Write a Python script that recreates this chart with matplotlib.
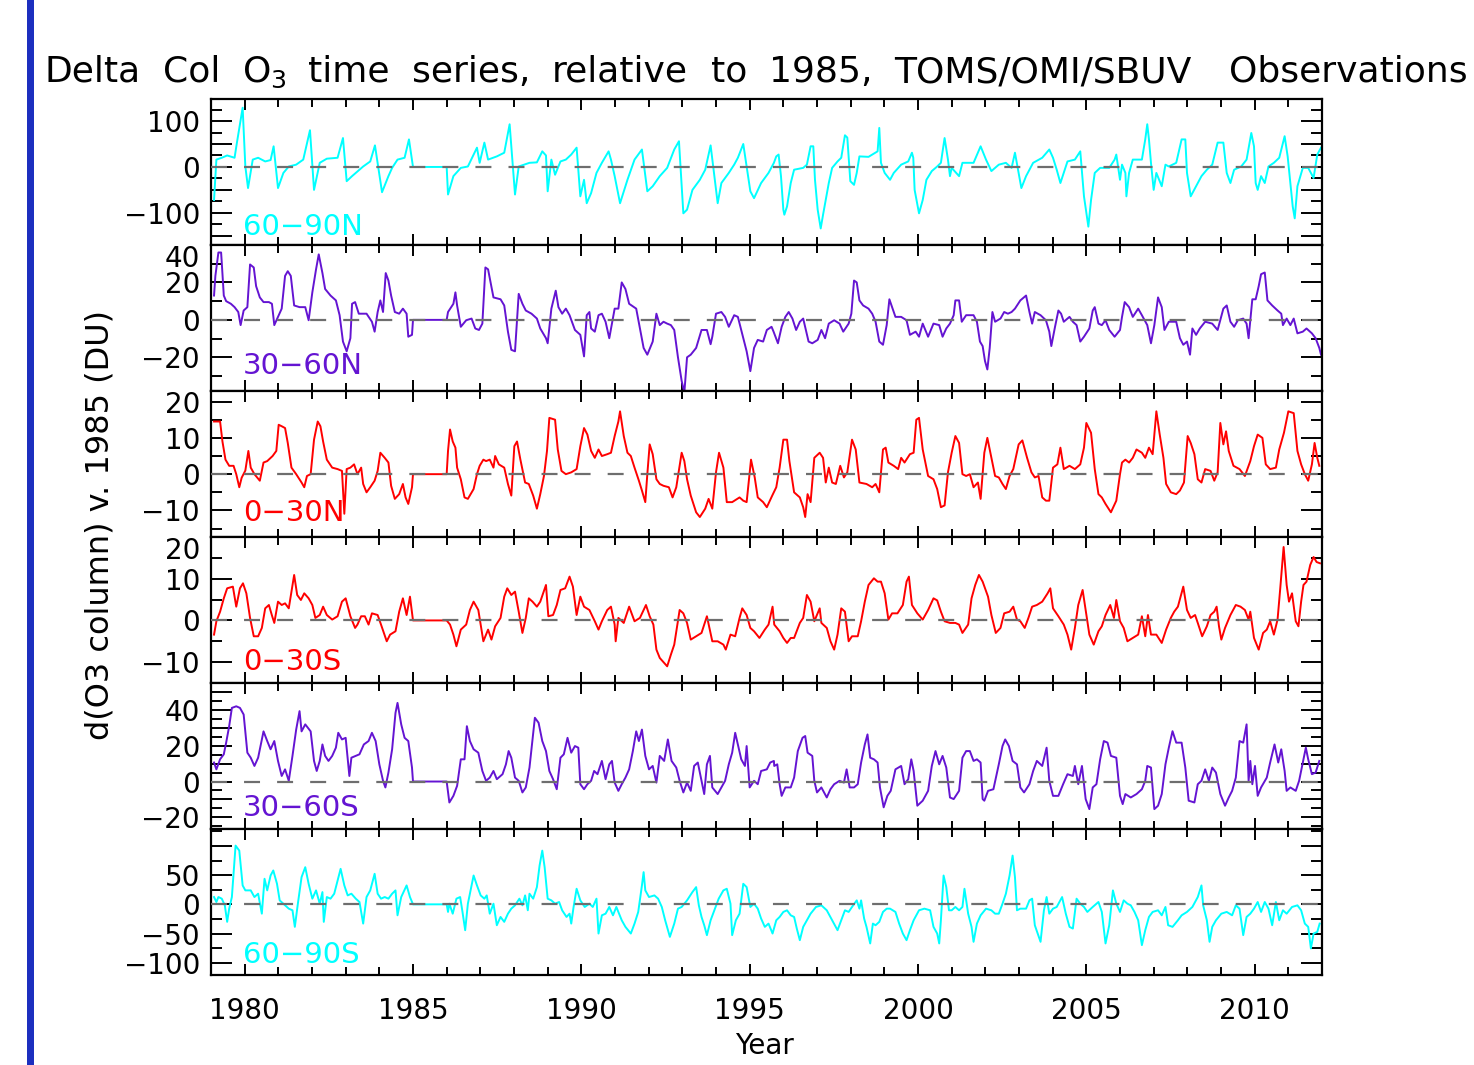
import numpy as np
import matplotlib
matplotlib.use('Agg')
import matplotlib.pyplot as plt
from matplotlib.patches import Rectangle

plt.rcParams['font.family'] = ['DejaVu Sans']
plt.rcParams['axes.unicode_minus'] = True
plt.rcParams['lines.scale_dashes'] = False

title_words = ['Delta', 'Col', 'O$_3$', 'time', 'series,', 'relative', 'to', '1985,',
               'TOMS/OMI/SBUV', 'Observations']
ylabel = 'd(O3 column) v. 1985 (DU)'
xlabel = 'Year'
bands = ['60\u221290N', '30\u221260N', '0\u221230N', '0\u221230S', '30\u221260S', '60\u221290S']
band_colors = ['#00ffff', '#6414d2', '#ff0000', '#ff0000', '#6414d2', '#00ffff']
year_ticks = [1980, 1985, 1990, 1995, 2000, 2005, 2010]

# (decimal year, delta column ozone in DU)
d_60_90N = [
    (1979.09,-72),(1979.16,16),(1979.32,20),(1979.48,25),(1979.70,20),(1979.77,53),(1979.94,129),(1980.02,1),
    (1980.10,-46),(1980.24,16),(1980.40,20),(1980.61,12),(1980.77,15),(1980.86,45),(1980.99,-46),(1981.15,-13),
    (1981.31,1),(1981.53,5),(1981.74,16),(1981.94,80),(1982.06,-50),(1982.23,9),(1982.44,18),(1982.76,20),
    (1982.92,63),(1983.03,-31),(1983.19,-20),(1983.52,1),(1983.73,12),(1983.87,47),(1984.08,-55),(1984.27,-20),
    (1984.38,-2),(1984.54,16),(1984.75,20),(1984.88,60),(1985.0,0),(1986.0,0),(1986.04,-60),(1986.20,-20),
    (1986.42,-2),(1986.63,1),(1986.90,42),(1986.98,9),(1987.12,53),(1987.23,16),(1987.49,23),(1987.71,31),
    (1987.87,93),(1988.03,-60),(1988.14,1),(1988.46,9),(1988.68,10),(1988.84,34),(1988.95,25),(1989.00,-53),
    (1989.11,16),(1989.22,-17),(1989.38,12),(1989.54,16),(1989.70,27),(1989.86,42),(1989.97,-64),(1990.08,-28),
    (1990.16,-79),(1990.29,-57),(1990.45,-13),(1990.61,9),(1990.81,34),(1990.88,16),(1990.99,-20),(1991.15,-79),
    (1991.37,-28),(1991.58,16),(1991.80,38),(1991.96,-53),(1992.12,-42),(1992.33,-20),(1992.55,-2),(1992.76,38),
    (1992.90,56),(1993.03,-101),(1993.14,-93),(1993.30,-50),(1993.52,-28),(1993.68,-6),(1993.84,47),(1994.05,-79),
    (1994.16,-35),(1994.38,-13),(1994.54,5),(1994.65,20),(1994.81,50),(1995.02,-53),(1995.13,-68),(1995.34,-35),
    (1995.56,-13),(1995.72,9),(1995.79,23),(1995.86,27),(1995.93,-20),(1996.00,-93),(1996.03,-104),(1996.11,-86),
    (1996.22,-35),(1996.32,-6),(1996.59,-2),(1996.70,5),(1996.81,45),(1996.89,45),(1996.94,-28),(1997.02,-93),
    (1997.11,-134),(1997.18,-104),(1997.35,-35),(1997.45,-2),(1997.61,12),(1997.72,20),(1997.83,69),(1997.90,64),
    (1997.99,-31),(1998.10,-39),(1998.18,-13),(1998.26,23),(1998.53,22),(1998.80,34),(1998.85,85),(1998.90,9),
    (1999.01,-13),(1999.17,-28),(1999.28,-13),(1999.50,5),(1999.71,12),(1999.82,31),(1999.86,20),(1999.90,-50),
    (2000.03,-101),(2000.14,-72),(2000.25,-28),(2000.41,-9),(2000.57,1),(2000.68,9),(2000.79,63),(2000.89,16),
    (2000.95,-20),(2001.00,-2),(2001.22,-20),(2001.32,9),(2001.65,9),(2001.86,45),(2002.02,16),(2002.18,-9),
    (2002.40,5),(2002.61,9),(2002.78,-2),(2002.88,31),(2002.99,-13),(2003.07,-46),(2003.21,-20),(2003.42,9),
    (2003.69,20),(2003.90,38),(2004.01,20),(2004.12,-6),(2004.23,-35),(2004.44,12),(2004.66,16),(2004.82,34),
    (2004.93,-64),(2005.06,-130),(2005.14,-72),(2005.25,-13),(2005.41,-2),(2005.68,-2),(2005.84,16),(2005.89,27),
    (2006.00,-28),(2006.06,5),(2006.16,-13),(2006.19,-64),(2006.27,-13),(2006.38,16),(2006.65,16),(2006.75,60),
    (2006.81,93),(2006.86,60),(2006.92,9),(2007.00,-50),(2007.08,-13),(2007.24,-42),(2007.35,5),(2007.45,1),
    (2007.67,9),(2007.83,60),(2007.94,60),(2007.99,-13),(2008.10,-64),(2008.26,-42),(2008.42,-20),(2008.58,-6),
    (2008.74,5),(2008.90,53),(2009.07,53),(2009.17,-13),(2009.28,-35),(2009.39,-6),(2009.60,1),(2009.76,16),
    (2009.90,74),(2009.98,45),(2010.03,-35),(2010.09,-50),(2010.19,-20),(2010.30,-35),(2010.41,1),(2010.57,9),
    (2010.73,20),(2010.89,67),(2010.98,23),(2011.06,-35),(2011.13,-86),(2011.19,-112),(2011.27,-42),(2011.43,-2),
    (2011.59,-2),(2011.75,-24),(2011.86,27),(2011.97,42),
]

d_30_60N = [
    (1979.09,13),(1979.13,23.5),(1979.22,36),(1979.30,36),(1979.32,30.5),(1979.38,13),(1979.45,10),(1979.59,8.6),
    (1979.70,6.8),(1979.81,4.2),(1979.88,-2.8),(1979.97,5),(1980.08,6.8),(1980.16,29.6),(1980.27,28),(1980.34,18),
    (1980.45,12),(1980.56,9.5),(1980.72,9.5),(1980.81,8.6),(1980.88,-2.8),(1980.99,1.6),(1981.10,6),(1981.20,23.5),
    (1981.28,26),(1981.37,23.5),(1981.47,7.7),(1981.63,6.8),(1981.80,6.8),(1981.90,-0.2),(1982.01,14.7),(1982.12,27),
    (1982.20,35),(1982.31,25),(1982.39,16.5),(1982.55,13),(1982.71,10.4),(1982.82,2.5),(1982.92,-11.6),(1983.03,-16.8),
    (1983.14,-9.8),(1983.19,8.6),(1983.28,9.5),(1983.39,3.3),(1983.62,3.3),(1983.78,-1),(1983.86,-6.3),(1983.95,4.2),
    (1984.03,10.4),(1984.11,4.2),(1984.19,25),(1984.27,21),(1984.35,13),(1984.46,4.2),(1984.59,3.3),(1984.70,6),
    (1984.81,3.3),(1984.86,-9),(1984.97,-8),(1985.0,0),(1986.0,0),(1986.04,4.2),(1986.20,8.6),(1986.26,14.7),
    (1986.31,7.7),(1986.42,-3.7),(1986.58,-0.2),(1986.74,0.7),(1986.85,-4.6),(1986.96,-5.4),(1987.06,-2),(1987.15,28),
    (1987.23,27),(1987.39,12),(1987.60,11),(1987.71,7.7),(1987.82,-6.3),(1987.92,-16),(1988.03,-16.8),(1988.14,13.9),
    (1988.25,8.6),(1988.35,5),(1988.52,3.3),(1988.68,0.7),(1988.78,-4.6),(1988.95,-9.8),(1989.00,-12.5),(1989.11,6),
    (1989.24,15.6),(1989.32,6.8),(1989.43,3.3),(1989.54,6),(1989.65,2.5),(1989.81,-5.4),(1989.97,-8),(1990.08,-19.5),
    (1990.16,2.5),(1990.24,4.2),(1990.29,-4.6),(1990.40,-6.3),(1990.51,2.5),(1990.61,3.3),(1990.72,-1),(1990.83,-9.8),
    (1990.99,6),(1991.10,6),(1991.20,20),(1991.31,16.5),(1991.42,8.6),(1991.63,6),(1991.74,-4.6),(1991.85,-15),
    (1991.96,-18.6),(1992.12,-11.6),(1992.23,3.3),(1992.33,-2.8),(1992.44,-1),(1992.55,-2),(1992.66,-2.8),(1992.76,-5.4),
    (1992.87,-20),(1992.98,-32.6),(1993.06,-38.8),(1993.14,-20),(1993.25,-18.6),(1993.41,-15),(1993.57,-5.4),(1993.73,-5.4),
    (1993.84,-13),(1993.89,-9),(1994.00,3.3),(1994.16,4.2),(1994.27,1.6),(1994.38,-3.7),(1994.54,2.5),(1994.65,1.6),
    (1994.75,-5.4),(1994.91,-16.8),(1995.02,-27.4),(1995.13,-15),(1995.24,-10.7),(1995.40,-11.6),(1995.51,-5.4),(1995.65,-3.7),
    (1995.71,-6.3),(1995.84,-12.5),(1995.95,-3.7),(1996.06,1.6),(1996.16,4.2),(1996.27,0.7),(1996.38,-5.4),(1996.49,-1),
    (1996.59,0.7),(1996.75,-11.6),(1996.86,-12.5),(1997.02,-10.7),(1997.13,-5.4),(1997.24,-9.8),(1997.35,-2),(1997.51,-0.2),
    (1997.67,-2),(1997.78,-6.3),(1997.94,-2),(1998.02,3.3),(1998.10,21),(1998.18,20),(1998.26,10.4),(1998.37,7.7),
    (1998.53,6),(1998.64,3.3),(1998.74,-1),(1998.85,-11.6),(1998.96,-13.3),(1999.07,-2.8),(1999.15,11),(1999.23,6.8),
    (1999.33,1.6),(1999.50,1.6),(1999.66,-0.2),(1999.76,-8),(1999.93,-6.3),(2000.03,-9),(2000.14,-2),(2000.30,-9),
    (2000.46,-2),(2000.63,-2.8),(2000.73,-9),(2000.84,-4.6),(2000.95,-2),(2001.06,2.5),(2001.11,10.4),(2001.22,10.4),
    (2001.30,-1),(2001.43,2.5),(2001.65,2.5),(2001.75,-1),(2001.84,-11.6),(2001.92,-14),(2001.99,-22),(2002.06,-26.5),
    (2002.13,-15),(2002.21,4.2),(2002.29,-1),(2002.45,0.7),(2002.56,4.2),(2002.67,3.3),(2002.78,4.2),(2002.88,6),
    (2003.04,10.4),(2003.21,13),(2003.31,4.2),(2003.39,-2),(2003.47,4.2),(2003.64,2.5),(2003.80,-0.2),(2003.90,-6.3),
    (2003.96,-14),(2004.07,-3.7),(2004.17,5),(2004.25,3.3),(2004.33,-1),(2004.50,1.6),(2004.60,-1),(2004.71,-2.8),
    (2004.82,-11.6),(2004.93,-9),(2005.09,-4.6),(2005.19,5),(2005.25,6.8),(2005.36,-2),(2005.46,-2.8),(2005.57,-0.2),
    (2005.68,-5.4),(2005.84,-9),(2006.00,-5.4),(2006.06,1.6),(2006.14,9.5),(2006.27,6.8),(2006.38,1.6),(2006.54,6),
    (2006.65,2.5),(2006.81,-2.8),(2006.92,-12.5),(2007.02,-2.8),(2007.13,12),(2007.24,6.8),(2007.32,-5.4),(2007.45,-1),
    (2007.67,-1),(2007.78,-9.8),(2007.88,-13.3),(2007.99,-11.6),(2008.08,-18.6),(2008.15,-4.6),(2008.26,-8),(2008.37,-4.6),
    (2008.53,-1),(2008.74,-2),(2008.90,-5.4),(2009.07,6),(2009.17,7.7),(2009.28,-1),(2009.39,-3.7),(2009.50,-0.2),
    (2009.66,0.7),(2009.76,-2),(2009.82,-9.8),(2009.93,11),(2010.03,11),(2010.12,18),(2010.19,24.4),(2010.30,25.3),
    (2010.38,10.4),(2010.52,7.7),(2010.68,5),(2010.79,3.3),(2010.84,-2.8),(2010.95,0.7),(2011.06,-2.8),(2011.16,0.7),
    (2011.27,-7.2),(2011.43,-6.3),(2011.54,-4.6),(2011.70,-7.2),(2011.81,-9.8),(2011.92,-15),(2011.97,-18.6),
]

d_0_30N = [
    (1979.09,14.5),(1979.19,14.5),(1979.27,14.5),(1979.34,9),(1979.43,4),(1979.54,2.3),(1979.67,2.3),(1979.75,0),
    (1979.84,-3.6),(1979.91,-1),(1980.02,1),(1980.11,6.4),(1980.18,1.8),(1980.29,0),(1980.45,-1.8),(1980.56,3.2),
    (1980.67,3.6),(1980.83,5),(1980.94,6.4),(1981.01,13.6),(1981.10,13.2),(1981.20,12.7),(1981.28,8.6),(1981.39,1.8),
    (1981.53,0),(1981.69,-2.3),(1981.77,-3.6),(1981.85,-0.5),(1981.96,0),(1982.06,9.5),(1982.17,14.5),(1982.25,13.2),
    (1982.33,9),(1982.44,4),(1982.60,1.8),(1982.76,1.4),(1982.89,0.9),(1982.96,-10.9),(1983.03,1.4),(1983.14,1.8),
    (1983.25,2.7),(1983.35,0),(1983.46,1.8),(1983.52,-2.7),(1983.62,-5),(1983.73,-3.6),(1983.86,-1.8),(1983.95,0.9),
    (1984.03,5.9),(1984.16,4.5),(1984.27,3.2),(1984.35,-3.2),(1984.46,-6.8),(1984.59,-5.5),(1984.70,-2.7),(1984.78,-6.4),
    (1984.86,-8.2),(1984.97,-3.6),(1985.0,0),(1986.0,0),(1986.04,6.4),(1986.10,12.3),(1986.18,9),(1986.26,7.3),
    (1986.31,1.8),(1986.42,-1.4),(1986.53,-6.4),(1986.63,-6.8),(1986.80,-4.1),(1986.90,0),(1986.98,2.3),(1987.09,4),
    (1987.17,3.6),(1987.28,4),(1987.39,1.8),(1987.44,5),(1987.55,2.7),(1987.71,1.8),(1987.82,-2.7),(1987.92,-5.9),
    (1988.01,7.7),(1988.09,9),(1988.19,4),(1988.33,-2.3),(1988.44,-2.7),(1988.57,-5.9),(1988.68,-9.5),(1988.78,-5.5),
    (1988.89,-0.5),(1988.98,6.4),(1989.05,15.5),(1989.22,15),(1989.30,6.8),(1989.41,0.9),(1989.54,0),(1989.70,0.5),
    (1989.86,1.4),(1989.97,7.7),(1990.08,12.7),(1990.18,10.9),(1990.29,6.4),(1990.40,4.5),(1990.51,6.8),(1990.61,5),
    (1990.77,5.5),(1990.88,5.9),(1990.99,10.5),(1991.10,14.5),(1991.15,17.3),(1991.26,10.5),(1991.37,5.9),(1991.47,5),
    (1991.58,1.8),(1991.71,-1.8),(1991.80,-4.5),(1991.90,-7.7),(1991.96,0),(1992.03,8.2),(1992.12,5.5),(1992.23,-1.4),
    (1992.33,-2.7),(1992.44,-3.2),(1992.60,-3.6),(1992.71,-6.4),(1992.82,-3.6),(1992.98,5.9),(1993.06,3.6),(1993.14,-1.4),
    (1993.25,-5.9),(1993.41,-10.5),(1993.52,-11.8),(1993.68,-9.5),(1993.78,-6.8),(1993.89,-9.5),(1994.00,0.5),(1994.09,5.9),
    (1994.22,1.8),(1994.32,-7.7),(1994.48,-7.7),(1994.70,-6.4),(1994.81,-7.3),(1994.91,-7.7),(1995.04,4),(1995.15,-0.9),
    (1995.24,-6.4),(1995.40,-7.7),(1995.51,-9.1),(1995.67,-5.9),(1995.79,-3.6),(1995.89,1.8),(1996.00,9.5),(1996.11,9.5),
    (1996.18,3.6),(1996.32,-5),(1996.49,-6.4),(1996.59,-9.1),(1996.65,-11.8),(1996.72,-5.5),(1996.81,-7.7),(1996.92,4.5),
    (1997.08,5.9),(1997.18,4.5),(1997.26,-2.3),(1997.35,1.8),(1997.45,-2.3),(1997.56,-2.7),(1997.69,2.3),(1997.80,-0.9),
    (1997.90,0.5),(1998.04,9.5),(1998.15,6.8),(1998.26,-2.3),(1998.47,-2.7),(1998.64,-3.6),(1998.74,-2.7),(1998.85,-5),
    (1998.96,6.8),(1999.04,7.3),(1999.12,3.2),(1999.28,2.3),(1999.41,1.4),(1999.50,4.5),(1999.60,3.2),(1999.76,5.5),
    (1999.87,5.9),(1999.95,15),(2000.03,15.5),(2000.14,6.8),(2000.30,-0.5),(2000.46,-1.4),(2000.57,-4.1),(2000.68,-9.1),
    (2000.79,-8.6),(2000.89,0.5),(2001.00,5.9),(2001.11,10.5),(2001.22,8.6),(2001.32,0),(2001.43,-0.5),(2001.54,0),
    (2001.65,-3.6),(2001.78,-2.3),(2001.86,-6.8),(2001.97,5.9),(2002.06,10),(2002.16,5.5),(2002.29,-0.5),(2002.40,-0.9),
    (2002.51,-2.7),(2002.61,-4.1),(2002.72,-0.5),(2002.83,1.4),(2002.99,8.2),(2003.10,9.3),(2003.24,4.5),(2003.37,0.5),
    (2003.47,-0.9),(2003.58,-0.5),(2003.69,-6.4),(2003.80,-7.3),(2003.90,-7.3),(2004.01,1.8),(2004.14,2.7),(2004.23,7.3),
    (2004.33,1.4),(2004.50,2.3),(2004.66,1.4),(2004.82,2.7),(2004.93,7.3),(2005.00,14.1),(2005.14,11.4),(2005.25,1.4),
    (2005.36,-5.5),(2005.46,-6.4),(2005.57,-8.2),(2005.73,-10.5),(2005.89,-7.3),(2006.00,0),(2006.06,3.2),(2006.16,4),
    (2006.27,3.2),(2006.38,4.5),(2006.49,6.8),(2006.65,5.9),(2006.75,4.5),(2006.86,7.3),(2006.97,5.5),(2007.08,17.3),
    (2007.18,10.9),(2007.29,4.5),(2007.37,-2.7),(2007.51,-5),(2007.67,-5.5),(2007.78,-4.5),(2007.90,-2.3),(2008.01,10.5),
    (2008.10,8.6),(2008.21,5.5),(2008.31,-1.4),(2008.42,-2.3),(2008.53,1.4),(2008.69,0.9),(2008.80,-1.8),(2008.90,0.5),
    (2008.98,14.1),(2009.07,8.2),(2009.15,11.8),(2009.23,6.4),(2009.37,2.3),(2009.55,1.4),(2009.71,-0.5),(2009.87,3.6),
    (2009.98,7.7),(2010.09,10.9),(2010.23,10),(2010.33,2.7),(2010.46,1.4),(2010.63,1.8),(2010.73,6.8),(2010.87,11.4),
    (2011.00,17.3),(2011.16,16.8),(2011.27,6.4),(2011.38,2.7),(2011.49,0),(2011.59,-1.8),(2011.70,2.7),(2011.78,8.6),
    (2011.86,4.5),(2011.92,2.3),
]

d_0_30S = [
    (1979.09,-3.4),(1979.16,-0.2),(1979.27,2.1),(1979.38,5.3),(1979.48,7.7),(1979.65,8.1),(1979.75,3.3),(1979.86,7.7),
    (1979.95,8.9),(1980.05,6.5),(1980.16,0.6),(1980.27,-3.8),(1980.40,-3.8),(1980.51,-1.8),(1980.61,2.9),(1980.72,3.7),
    (1980.81,1.2),(1980.88,-0.6),(1980.99,4.5),(1981.10,3.7),(1981.20,4.1),(1981.31,2.9),(1981.42,8.5),(1981.47,10.9),
    (1981.56,6.1),(1981.67,4.9),(1981.77,6.5),(1981.90,5.3),(1982.01,3.7),(1982.10,0.6),(1982.23,1.3),(1982.33,3.3),
    (1982.44,1.3),(1982.60,0.2),(1982.76,1),(1982.89,4.5),(1983.00,5.3),(1983.14,1),(1983.28,-1.8),(1983.35,-1),
    (1983.46,1),(1983.57,1),(1983.68,-1),(1983.78,1.7),(1983.95,1.3),(1984.05,-1),(1984.22,-5),(1984.32,-3.4),
    (1984.48,-2.6),(1984.59,2.1),(1984.70,5.3),(1984.81,1.3),(1984.91,5.7),(1985.0,0),(1986.0,0),(1986.10,-1),
    (1986.20,-3.4),(1986.29,-6.2),(1986.42,-2.2),(1986.58,-1),(1986.69,2.5),(1986.80,4.5),(1986.94,2.5),(1987.01,-1),
    (1987.09,-5),(1987.23,-2.2),(1987.33,-4.6),(1987.44,-1.4),(1987.60,0.6),(1987.71,5.7),(1987.80,7.7),(1987.92,6.1),
    (1988.03,6.9),(1988.14,2.1),(1988.25,-3),(1988.35,0.6),(1988.44,5.3),(1988.55,4.5),(1988.68,3.3),(1988.78,4.5),
    (1988.95,8.5),(1989.02,1),(1989.16,1.3),(1989.27,3.7),(1989.38,7.3),(1989.52,7.7),(1989.65,10.5),(1989.75,8.1),
    (1989.86,1.3),(1989.97,5.7),(1990.08,3.3),(1990.24,2.5),(1990.40,-0.2),(1990.51,-2.2),(1990.61,-0.2),(1990.77,2.5),
    (1990.88,3.3),(1990.99,-1),(1991.02,-5),(1991.10,0.6),(1991.26,-0.6),(1991.42,3.3),(1991.58,-0.2),(1991.74,0.6),
    (1991.92,3.7),(1992.03,1),(1992.14,-1),(1992.23,-7),(1992.33,-9),(1992.46,-10.2),(1992.55,-11),(1992.66,-8.2),
    (1992.76,-5.8),(1992.92,2.5),(1993.03,1.7),(1993.14,-0.6),(1993.25,-4.6),(1993.41,-3.8),(1993.57,-3),(1993.73,1),
    (1993.89,-5),(1994.05,-5),(1994.22,-5.8),(1994.29,-7),(1994.43,-3.4),(1994.57,-3.8),(1994.70,0.6),(1994.78,2.9),
    (1994.91,1.3),(1995.02,-1.8),(1995.13,-2.6),(1995.29,-4.2),(1995.45,-2.2),(1995.56,-1),(1995.68,3.3),(1995.73,-1),
    (1995.89,-2.6),(1996.00,-4.2),(1996.11,-5.4),(1996.22,-4.2),(1996.32,-4.2),(1996.49,-0.6),(1996.59,0.6),(1996.70,6.1),
    (1996.81,4.5),(1996.92,-0.2),(1997.08,2.9),(1997.13,-0.6),(1997.29,-1.8),(1997.40,-5),(1997.51,-7),(1997.61,-3.4),
    (1997.72,2.9),(1997.83,2.1),(1997.94,-5),(1998.04,-3.8),(1998.21,-3.8),(1998.31,-0.2),(1998.42,4.5),(1998.53,8.5),
    (1998.69,10.1),(1998.80,9.3),(1998.90,9.3),(1999.01,6.5),(1999.12,0.2),(1999.23,1.7),(1999.39,1.7),(1999.55,3.7),
    (1999.66,9.3),(1999.73,10.5),(1999.82,3.7),(1999.98,1.7),(2000.14,0.2),(2000.30,2.5),(2000.46,5.3),(2000.57,4.8),
    (2000.68,2.1),(2000.79,-0.2),(2000.95,-0.6),(2001.11,-0.6),(2001.22,-1),(2001.32,-3),(2001.49,-1),(2001.59,5.3),
    (2001.70,8.5),(2001.81,10.9),(2001.92,9.3),(2002.08,5.7),(2002.18,1.3),(2002.31,-3),(2002.45,-1.8),(2002.56,1.7),
    (2002.72,2.1),(2002.83,3.3),(2002.94,0.2),(2003.04,-0.2),(2003.17,-1.8),(2003.28,0.6),(2003.39,3.3),(2003.53,3.7),
    (2003.69,4.5),(2003.85,6.5),(2003.93,7.7),(2004.01,2.9),(2004.17,1),(2004.33,-1),(2004.44,-3.4),(2004.55,-7),
    (2004.66,-1.8),(2004.76,3.7),(2004.89,7.3),(2004.98,2.5),(2005.09,-3.4),(2005.22,-5.8),(2005.36,-2.6),(2005.46,-1.4),
    (2005.57,1.3),(2005.71,3.7),(2005.82,0.6),(2005.89,4.9),(2006.00,-0.2),(2006.11,-1.8),(2006.22,-5),(2006.38,-4.2),
    (2006.54,-3.4),(2006.65,1),(2006.75,-3.8),(2006.83,1.3),(2006.92,-3.4),(2007.08,-3.4),(2007.24,-5.4),(2007.37,-2.2),
    (2007.51,0.6),(2007.61,2.1),(2007.72,3.3),(2007.88,8.1),(2007.99,2.5),(2008.10,0.6),(2008.23,1.3),(2008.31,-0.6),
    (2008.44,-3.8),(2008.58,-1.4),(2008.69,1.3),(2008.80,2.1),(2008.87,3.3),(2008.94,-1.4),(2009.01,-4.6),(2009.12,-1.8),
    (2009.28,1.3),(2009.44,3.7),(2009.58,3.3),(2009.71,2.5),(2009.82,0.2),(2009.87,2.1),(2009.98,-4.2),(2010.12,-7),
    (2010.25,-3),(2010.36,-2.2),(2010.46,-0.2),(2010.57,-3.4),(2010.68,0.2),(2010.76,7.7),(2010.86,17.6),(2010.95,8.5),
    (2011.02,4.5),(2011.11,6.5),(2011.22,-0.2),(2011.30,-1.4),(2011.38,4.5),(2011.45,8.5),(2011.54,9.3),(2011.65,13.3),
    (2011.75,15.2),(2011.84,14),(2011.94,13.7),
]

d_30_60S = [
    (1979.09,10.6),(1979.16,6.8),(1979.27,12.4),(1979.38,15.2),(1979.45,21.7),(1979.54,30.9),(1979.62,41.1),(1979.75,42),
    (1979.86,41.1),(1979.97,37.4),(1980.08,16.1),(1980.18,13.3),(1980.29,8.7),(1980.40,13.3),(1980.51,23.5),(1980.56,28),
    (1980.67,22.6),(1980.77,18),(1980.88,22.6),(1980.99,11.5),(1981.10,3.1),(1981.20,6.8),(1981.31,0.4),(1981.42,14.3),
    (1981.53,29),(1981.63,39.3),(1981.69,28),(1981.80,31.9),(1981.96,28),(1982.06,11.5),(1982.14,5.9),(1982.23,11.5),
    (1982.31,20.7),(1982.39,14.3),(1982.49,11.5),(1982.60,14.3),(1982.71,18.9),(1982.78,27.2),(1982.89,23.5),(1983.00,24.4),
    (1983.11,3.1),(1983.17,13.3),(1983.30,14.3),(1983.41,15.2),(1983.54,20.7),(1983.68,22.6),(1983.78,27.2),(1983.89,22.6),
    (1984.00,9.6),(1984.11,0.4),(1984.18,-3.3),(1984.27,5),(1984.38,18),(1984.48,38.3),(1984.54,43.9),(1984.65,31.9),
    (1984.75,24.4),(1984.86,22.6),(1984.97,7.8),(1985.0,0),(1986.0,0),(1986.08,-11.7),(1986.20,-8),(1986.31,-2.4),
    (1986.42,12.4),(1986.53,12.4),(1986.60,30.9),(1986.69,22.6),(1986.80,18),(1986.94,16.1),(1987.06,5.9),(1987.17,0.4),
    (1987.28,2.2),(1987.39,5.9),(1987.49,1.3),(1987.66,4.1),(1987.76,9.6),(1987.84,17),(1987.92,13.3),(1988.03,2.2),
    (1988.14,0.4),(1988.25,-6.1),(1988.35,-3.3),(1988.46,7.8),(1988.55,23.5),(1988.62,35.6),(1988.73,32.8),(1988.84,22.6),
    (1988.95,17),(1989.05,5.9),(1989.16,1.3),(1989.27,-4.3),(1989.38,13.3),(1989.48,15.2),(1989.59,24.4),(1989.70,16.1),
    (1989.81,19.8),(1989.91,18.9),(1989.97,-1.5),(1990.08,-4.3),(1990.18,-1.5),(1990.29,0.4),(1990.38,5.9),(1990.48,4.1),
    (1990.61,11.5),(1990.72,1.3),(1990.83,9.6),(1990.91,11.5),(1990.99,-0.6),(1991.10,-5.2),(1991.20,-1.5),(1991.31,2.2),
    (1991.42,6.8),(1991.53,17),(1991.63,28),(1991.71,22.6),(1991.80,29),(1991.90,14.3),(1992.01,6.8),(1992.12,8.7),
    (1992.23,-0.6),(1992.33,14.3),(1992.46,11.5),(1992.57,23.5),(1992.68,11.5),(1992.82,7.8),(1992.92,0.4),(1993.03,-6.1),
    (1993.14,-0.6),(1993.25,-5.2),(1993.35,8.7),(1993.46,10.6),(1993.57,0.4),(1993.65,-7),(1993.73,9.6),(1993.82,14.3),
    (1993.89,-3.3),(1994.05,-7),(1994.16,-3.3),(1994.27,0.4),(1994.38,9.6),(1994.48,16.1),(1994.57,27.2),(1994.65,20.7),
    (1994.75,12.4),(1994.86,8.7),(1994.91,19.8),(1995.00,-3.3),(1995.13,0.4),(1995.24,-1.5),(1995.34,5.9),(1995.51,6.8),
    (1995.61,10.6),(1995.72,11.5),(1995.73,8.7),(1995.82,9.6),(1995.89,-1.5),(1995.95,-8),(1996.06,-3.3),(1996.22,-3.3),
    (1996.32,2.2),(1996.43,17),(1996.57,24.4),(1996.65,25.4),(1996.72,16.1),(1996.86,14.3),(1996.92,0.4),(1997.00,-6.1),
    (1997.13,-3.3),(1997.29,-8.9),(1997.40,-4.3),(1997.51,-1.5),(1997.67,0.4),(1997.80,-0.6),(1997.88,6.8),(1997.97,-3.3),
    (1998.10,-3.3),(1998.21,-1.5),(1998.31,10.6),(1998.42,20.7),(1998.50,26.3),(1998.58,13.3),(1998.69,12.4),(1998.80,10.6),
    (1998.87,-3.3),(1998.98,-14.4),(1999.09,-8),(1999.19,-5.2),(1999.33,6.8),(1999.50,8.7),(1999.60,-1.5),(1999.71,1.3),
    (1999.80,12.4),(1999.87,5.9),(1999.98,-13.5),(2000.14,-10.7),(2000.30,-5.2),(2000.41,8.7),(2000.52,17),(2000.63,9.6),
    (2000.73,14.3),(2000.84,7.8),(2000.95,-8.9),(2001.06,-9.8),(2001.22,-5.2),(2001.32,13.3),(2001.43,17),(2001.54,17),
    (2001.65,11.5),(2001.75,12.4),(2001.86,10.6),(2001.92,-9.8),(2001.97,-10.7),(2002.08,-5.2),(2002.24,-4.3),(2002.40,9.6),
    (2002.51,19.8),(2002.59,23.5),(2002.70,19.8),(2002.81,11.5),(2002.94,9.6),(2003.04,-3.3),(2003.15,-6.1),(2003.31,-1.5),
    (2003.42,5.9),(2003.53,11.5),(2003.69,8.7),(2003.82,18.9),(2003.90,0.4),(2004.01,-8),(2004.17,-8),(2004.31,-1.5),
    (2004.44,4.1),(2004.60,3.1),(2004.66,8.7),(2004.76,-1.5),(2004.87,8.7),(2004.98,-9.8),(2005.09,-15.4),(2005.19,-3.3),
    (2005.30,-1.5),(2005.41,12.4),(2005.52,22.6),(2005.63,21.7),(2005.73,14.3),(2005.89,13.3),(2006.00,-8),(2006.08,-12.6),
    (2006.16,-7),(2006.32,-8.9),(2006.49,-7),(2006.65,-4.3),(2006.75,0.4),(2006.81,8.7),(2006.92,7.8),(2007.02,-15.4),
    (2007.13,-13.5),(2007.24,-7),(2007.35,9.6),(2007.45,18.9),(2007.56,28.1),(2007.67,21.7),(2007.83,21.7),(2007.94,7.8),
    (2008.04,-10.7),(2008.21,-11.7),(2008.31,-1.5),(2008.42,0.4),(2008.53,6.8),(2008.64,0.4),(2008.74,7.8),(2008.85,5),
    (2008.98,-7),(2009.12,-13.5),(2009.23,-8.9),(2009.33,-5.2),(2009.44,2.2),(2009.55,22.6),(2009.66,21.7),(2009.76,31.9),
    (2009.82,0.4),(2009.87,11.5),(2009.93,-1.5),(2010.01,8.7),(2010.09,-8),(2010.19,-3.3),(2010.36,2.2),(2010.46,10.6),
    (2010.59,20.7),(2010.70,10.6),(2010.79,18),(2010.89,5.9),(2010.95,-5.2),(2011.06,-3.3),(2011.22,-5.2),(2011.32,0.4),
    (2011.43,10.6),(2011.52,18.9),(2011.59,12.4),(2011.70,4.1),(2011.81,5),(2011.92,11.5),
]

d_60_90S = [
    (1979.09,12.5),(1979.16,4),(1979.22,12.5),(1979.32,9.7),(1979.41,-1.7),(1979.48,-30),(1979.54,-7.4),(1979.62,12.5),
    (1979.73,100.6),(1979.84,92),(1979.94,32.4),(1980.02,23.9),(1980.18,23.9),(1980.29,12.5),(1980.40,18.2),(1980.51,-16),
    (1980.59,43.8),(1980.67,23.9),(1980.77,49.4),(1980.85,58),(1980.96,35.2),(1981.04,6.8),(1981.20,-1.7),(1981.31,-7.4),
    (1981.42,-10.2),(1981.49,-38.6),(1981.58,1.1),(1981.69,46.6),(1981.80,63.6),(1981.90,35.2),(1982.01,9.7),(1982.12,23.9),
    (1982.23,1.1),(1982.31,21),(1982.35,-30),(1982.44,12.5),(1982.55,9.7),(1982.66,18.2),(1982.76,40.9),(1982.85,60.8),
    (1982.96,32.4),(1983.06,15.3),(1983.17,18.2),(1983.30,9.7),(1983.41,4),(1983.52,-33),(1983.62,12.5),(1983.73,23.9),
    (1983.86,52.3),(1983.95,18.2),(1984.05,9.7),(1984.16,12.5),(1984.27,9.7),(1984.38,18.2),(1984.48,23.9),(1984.54,-18.8),
    (1984.65,12.5),(1984.81,32.4),(1984.91,12.5),(1985.0,0),(1986.0,0),(1986.04,-13),(1986.08,1.1),(1986.18,-16),
    (1986.29,9.7),(1986.40,12.5),(1986.47,-13),(1986.55,-44.3),(1986.63,1.1),(1986.72,26.7),(1986.80,49.4),(1986.90,32.4),
    (1987.01,15.3),(1987.12,9.7),(1987.19,15.3),(1987.28,-16),(1987.39,1.1),(1987.49,-35.8),(1987.60,-21.6),(1987.71,-30),
    (1987.82,-16),(1987.92,-7.4),(1988.03,-1.7),(1988.16,9.7),(1988.25,-1.7),(1988.33,15.3),(1988.41,-10.2),(1988.46,18.2),
    (1988.57,9.7),(1988.68,29.5),(1988.76,66.5),(1988.84,92),(1988.91,63.6),(1989.00,9.7),(1989.11,6.8),(1989.22,1.1),
    (1989.34,4),(1989.43,-10.2),(1989.56,-21.6),(1989.65,-16),(1989.70,-33),(1989.77,-4.5),(1989.86,26.7),(1989.97,6.8),
    (1990.10,-4.5),(1990.24,1.1),(1990.34,-4.5),(1990.45,9.7),(1990.51,-50),(1990.61,-18.8),(1990.72,-16),(1990.83,-4.5),
    (1990.94,-18.8),(1991.04,-4.5),(1991.20,-27.3),(1991.31,-38.6),(1991.47,-50),(1991.58,-33),(1991.69,-13),(1991.80,32.4),
    (1991.85,55.1),(1991.90,23.9),(1992.01,12.5),(1992.17,15.3),(1992.28,9.7),(1992.39,-4.5),(1992.49,-27.3),(1992.63,-55.7),
    (1992.76,-33),(1992.87,-7.4),(1992.98,-4.5),(1993.14,6.8),(1993.30,21),(1993.41,29.5),(1993.49,-1.7),(1993.57,-21.6),
    (1993.65,-35.8),(1993.73,-52.8),(1993.84,-27.3),(1993.95,-10.2),(1994.08,9.7),(1994.22,23.9),(1994.32,26.7),(1994.43,1.1),
    (1994.48,-52.8),(1994.59,-27.3),(1994.70,-16),(1994.81,35.2),(1994.91,29.5),(1995.02,-4.5),(1995.13,1.1),(1995.24,-7.4),
    (1995.34,-24.4),(1995.45,-38.6),(1995.56,-33),(1995.68,-50),(1995.72,-41.5),(1995.79,-27.3),(1995.89,-21.6),(1996.00,-13),
    (1996.11,-10.2),(1996.22,-18.8),(1996.32,-21.6),(1996.40,-41.5),(1996.49,-61.4),(1996.59,-38.6),(1996.70,-27.3),(1996.81,-16),
    (1996.97,-4.5),(1997.13,-1.7),(1997.29,-10.2),(1997.45,-27.3),(1997.61,-44.3),(1997.72,-27.3),(1997.83,-10.2),(1997.94,-13),
    (1998.04,-4.5),(1998.18,6.8),(1998.26,-7.4),(1998.31,6.8),(1998.40,-24.4),(1998.47,-38.6),(1998.58,-67),(1998.66,-33),
    (1998.74,-35.8),(1998.85,-30),(1998.96,-13),(1999.07,-7.4),(1999.17,-7.4),(1999.33,-13),(1999.44,-33),(1999.55,-50),
    (1999.66,-61.4),(1999.76,-44.3),(1999.87,-27.3),(2000.03,-10.2),(2000.19,-7.4),(2000.36,-10.2),(2000.46,-38.6),(2000.57,-50),
    (2000.63,-67),(2000.68,-27.3),(2000.76,49.4),(2000.84,29.5),(2000.92,-10.2),(2001.00,-10.2),(2001.11,-4.5),(2001.22,-10.2),
    (2001.32,-4.5),(2001.38,26.7),(2001.49,-16),(2001.59,-38.6),(2001.65,-64.2),(2001.75,-33),(2001.86,-18.8),(2002.02,-7.4),
    (2002.18,-10.2),(2002.29,-16),(2002.40,-16),(2002.51,1.1),(2002.61,18.2),(2002.72,49.4),(2002.81,83.5),(2002.88,46.6),
    (2002.94,-10.2),(2003.04,-7.4),(2003.21,-7.4),(2003.31,6.8),(2003.39,9.7),(2003.47,-35.8),(2003.64,-64.2),(2003.74,-10.2),
    (2003.82,12.5),(2003.90,-16),(2004.01,-7.4),(2004.12,-4.5),(2004.28,12.5),(2004.39,-16),(2004.50,-38.6),(2004.60,-41.5),
    (2004.71,9.7),(2004.82,1.1),(2004.93,-4.5),(2005.03,-13),(2005.19,-4.5),(2005.36,4),(2005.46,-13),(2005.57,-67),
    (2005.68,-35.8),(2005.79,23.9),(2005.89,1.1),(2006.00,-13),(2006.11,6.8),(2006.22,1.1),(2006.32,-1.7),(2006.43,-13),
    (2006.54,-27.3),(2006.65,-69.9),(2006.75,-44.3),(2006.86,-21.6),(2006.97,-13),(2007.13,-10.2),(2007.24,-18.8),(2007.35,-4.5),
    (2007.43,-35.8),(2007.56,-38.6),(2007.72,-27.3),(2007.83,-18.8),(2007.99,-13),(2008.15,-4.5),(2008.31,12.5),(2008.42,32.4),
    (2008.47,-1.7),(2008.58,-27.3),(2008.66,-64.2),(2008.74,-38.6),(2008.85,-27.3),(2009.01,-16),(2009.17,-13),(2009.33,-18.8),
    (2009.44,-1.7),(2009.55,-7.4),(2009.66,-52.8),(2009.76,-21.6),(2009.87,-16),(2009.98,-7.4),(2010.09,4),(2010.19,-13),
    (2010.30,4),(2010.41,-7.4),(2010.52,-35.8),(2010.63,4),(2010.73,-27.3),(2010.84,-10.2),(2010.95,-16),(2011.11,-4.5),
    (2011.27,-1.7),(2011.38,-10.2),(2011.49,-33),(2011.59,-38.6),(2011.67,-75.6),(2011.75,-50),(2011.86,-47.2),(2011.93,-33),
]

series = [d_60_90N, d_30_60N, d_0_30N, d_0_30S, d_30_60S, d_60_90S]

y_limits = [(-170, 148), (-38, 40), (-17.3, 22.9), (-15, 20), (-26.5, 55), (-121, 129)]
y_major = [[-150, -100, -50, 0, 50, 100], [-20, 0, 20, 40], [-10, 0, 10, 20],
           [-10, 0, 10, 20], [-20, -10, 0, 10, 20, 30, 40, 50], [-100, -50, 0, 50, 100]]
y_labels = [['', '\u2212100', '', '0', '', '100'], ['\u221220', '0', '20', '40'],
            ['\u221210', '0', '10', '20'], ['\u221210', '0', '10', '20'],
            ['\u221220', '', '0', '', '20', '', '40', ''], ['\u2212100', '\u221250', '0', '50', '']]
y_minor_step = [25, 10, 5, 5, 5, 25]
band_label_y = [0.068, 0.116, 0.11, 0.089, 0.089, 0.082]

W, H = 1474, 1065
fig = plt.figure(figsize=(W / 100, H / 100), dpi=100)
fig.patch.set_facecolor('white')

# slide border strip on the left
fig.patches.append(Rectangle((27 / W, 0), 7 / W, 1, transform=fig.transFigure,
                             facecolor='#1c2fbf', edgecolor='none'))

left_px, right_px, top_px, ph = 211, 1322, 99, 146
for i in range(6):
    top = top_px + i * ph
    ax = fig.add_axes([left_px / W, 1 - (top + ph) / H, (right_px - left_px) / W, ph / H])
    arr = np.array(series[i], dtype=float)
    ax.plot(arr[:, 0], arr[:, 1], color=band_colors[i], lw=1.4, zorder=2)
    ax.axhline(0, color='#6e6e6e', lw=1.6, dashes=(11.5, 12.3), zorder=3)
    ax.set_xlim(1979, 2012)
    ax.set_ylim(*y_limits[i])
    ax.set_xticks(year_ticks)
    ax.set_xticks(np.arange(1979, 2013), minor=True)
    ax.set_yticks(y_major[i])
    ax.set_yticklabels(y_labels[i])
    lo, hi = y_limits[i]
    st = y_minor_step[i]
    ax.set_yticks(np.arange(np.ceil(lo / st) * st, hi + 0.01, st), minor=True)
    ax.tick_params(axis='both', which='both', direction='in', top=True, right=True,
                   width=1.4, color='black')
    ax.tick_params(axis='x', which='major', length=8)
    ax.tick_params(axis='x', which='minor', length=6)
    ax.tick_params(axis='y', which='major', length=15, pad=8, labelsize=20)
    ax.tick_params(axis='y', which='minor', length=8)
    ax.tick_params(axis='x', which='major', pad=16, labelsize=20)
    if i < 5:
        ax.tick_params(axis='x', labelbottom=False)
    for s in ax.spines.values():
        s.set_linewidth(1.6)
    # top-edge label sits below its tick
    for val, lab in zip(y_major[i], ax.get_yticklabels()):
        if abs(val - hi) < 0.6:
            lab.set_verticalalignment('top')
    ax.text(0.029, band_label_y[i], bands[i], transform=ax.transAxes, color=band_colors[i],
            fontsize=21, ha='left', va='baseline', zorder=5)

# title words laid out with the wide, even word spacing of the original
title_x_px = [45, 163, 242, 308, 412, 552, 711, 769, 894, 1229]
for word, xp in zip(title_words, title_x_px):
    fig.text(xp / W, 1 - 82 / H, word, fontsize=26, ha='left', va='baseline')
fig.text(100 / W, 1 - 525 / H, ylabel, fontsize=23, rotation=90, ha='center', va='center')
fig.text(764 / W, 1 - 1046 / H, xlabel, fontsize=20, ha='center', va='center')

fig.savefig('out.png', dpi=100)
